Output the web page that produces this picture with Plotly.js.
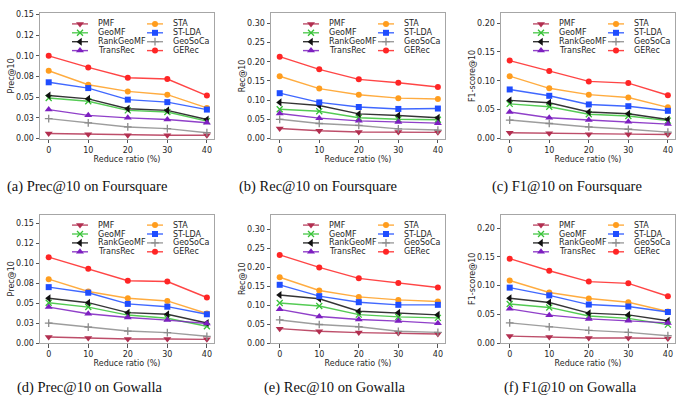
<!DOCTYPE html>
<html><head><meta charset="utf-8">
<script src="https://cdn.plot.ly/plotly-3.0.1.min.js"></script>
<style>html,body{margin:0;padding:0;background:#fff}#chart{width:685px;height:405px}</style>
</head><body><div id="chart"></div>
<script>
// ---------------- data ----------------
const ratios = [0, 10, 20, 30, 40];
const methods = ['PMF', 'GeoMF', 'RankGeoMF', 'TransRec', 'STA', 'ST-LDA', 'GeoSoCa', 'GERec'];

// rows follow the order of `methods`
const precFoursquare = [
  [0.006, 0.0052, 0.004, 0.004, 0.004],
  [0.049, 0.045, 0.034, 0.032, 0.021],
  [0.052, 0.048, 0.036, 0.034, 0.023],
  [0.035, 0.028, 0.025, 0.023, 0.019],
  [0.082, 0.065, 0.057, 0.053, 0.037],
  [0.068, 0.061, 0.047, 0.044, 0.035],
  [0.024, 0.019, 0.014, 0.012, 0.007],
  [0.100, 0.086, 0.0735, 0.072, 0.052]
];
const recFoursquare = [
  [0.026, 0.020, 0.017, 0.017, 0.016],
  [0.076, 0.071, 0.054, 0.050, 0.049],
  [0.094, 0.086, 0.064, 0.060, 0.054],
  [0.065, 0.053, 0.046, 0.043, 0.040],
  [0.162, 0.130, 0.114, 0.105, 0.103],
  [0.118, 0.094, 0.082, 0.077, 0.078],
  [0.050, 0.039, 0.034, 0.025, 0.022],
  [0.213, 0.180, 0.154, 0.145, 0.134]
];
const f1Foursquare = [
  [0.010, 0.009, 0.0075, 0.0075, 0.007],
  [0.060, 0.055, 0.042, 0.039, 0.031],
  [0.066, 0.062, 0.046, 0.043, 0.033],
  [0.046, 0.036, 0.032, 0.029, 0.025],
  [0.108, 0.087, 0.076, 0.071, 0.054],
  [0.085, 0.074, 0.059, 0.056, 0.048],
  [0.032, 0.026, 0.020, 0.016, 0.011],
  [0.135, 0.117, 0.099, 0.096, 0.075]
];
const precGowalla = [
  [0.0076, 0.0063, 0.005, 0.005, 0.0046],
  [0.0505, 0.045, 0.035, 0.031, 0.021],
  [0.056, 0.0505, 0.038, 0.036, 0.025],
  [0.045, 0.0367, 0.032, 0.0287, 0.0244],
  [0.080, 0.0645, 0.056, 0.0527, 0.037],
  [0.070, 0.063, 0.049, 0.0455, 0.036],
  [0.025, 0.020, 0.015, 0.013, 0.0084],
  [0.1075, 0.093, 0.078, 0.077, 0.057]
];
const recGowalla = [
  [0.038, 0.031, 0.0275, 0.0266, 0.024],
  [0.106, 0.098, 0.075, 0.069, 0.0665],
  [0.127, 0.117, 0.084, 0.080, 0.0745],
  [0.089, 0.070, 0.062, 0.058, 0.052],
  [0.174, 0.139, 0.122, 0.114, 0.110],
  [0.154, 0.124, 0.108, 0.101, 0.101],
  [0.061, 0.049, 0.043, 0.031, 0.028],
  [0.233, 0.200, 0.171, 0.159, 0.147]
];
const f1Gowalla = [
  [0.012, 0.0104, 0.0087, 0.0087, 0.008],
  [0.068, 0.062, 0.047, 0.043, 0.032],
  [0.078, 0.0705, 0.052, 0.049, 0.0387],
  [0.0595, 0.0485, 0.042, 0.0387, 0.035],
  [0.109, 0.088, 0.0775, 0.071, 0.055],
  [0.0965, 0.083, 0.067, 0.0636, 0.054],
  [0.035, 0.028, 0.022, 0.0185, 0.0127],
  [0.147, 0.126, 0.107, 0.104, 0.0815]
];

const xTickVals = [0, 10, 20, 30, 40];
const xTickText = ['0', '10', '20', '30', '40'];
const precTickVals = [0, 0.025, 0.05, 0.075, 0.1, 0.125, 0.15];
const precTickText = ['0.00', '0.03', '0.05', '0.08', '0.10', '0.12', '0.15'];
const recTickVals = [0, 0.05, 0.1, 0.15, 0.2, 0.25, 0.3];
const recTickText = ['0.00', '0.05', '0.10', '0.15', '0.20', '0.25', '0.30'];
const f1TickVals = [0, 0.05, 0.1, 0.15, 0.2];
const f1TickText = ['0.00', '0.05', '0.10', '0.15', '0.20'];

const xTitle = 'Reduce ratio (%)';
const yTitles = ['Prec@10', 'Rec@10', 'F1-score@10'];
const captions = [
  '(a) Prec@10 on Foursquare', '(b) Rec@10 on Foursquare', '(c) F1@10 on Foursquare',
  '(d) Prec@10 on Gowalla', '(e) Rec@10 on Gowalla', '(f) F1@10 on Gowalla'
];

// ---------------- styles / layout ----------------
const W = 685, H = 405;
const styles = {
  'PMF':       {color: '#b22f50', symbol: 'triangle-down', size: 7},
  'GeoMF':     {color: '#36c236', symbol: 'x-thin', size: 6},
  'RankGeoMF': {color: '#111111', symbol: 'triangle-left', size: 7},
  'TransRec':  {color: '#7d1fc0', symbol: 'triangle-up', size: 7},
  'STA':       {color: '#ff9d1e', symbol: 'circle', size: 6},
  'ST-LDA':    {color: '#1f4dff', symbol: 'square', size: 6},
  'GeoSoCa':   {color: '#8c8c8c', symbol: 'cross-thin', size: 5.5},
  'GERec':     {color: '#ff2525', symbol: 'circle', size: 6}
};
const colLeft = [40, 271, 501], colRight = [214, 445, 675];
const rowTop = [13.3, 214.5], rowBottom = [138.5, 343];
const captionX = [5, 237, 490, 15, 262, 502];
const captionY = [187, 387];

const panels = [
  {data: precFoursquare, tv: precTickVals, tt: precTickText, top: 0.1515, yt: 0},
  {data: recFoursquare,  tv: recTickVals,  tt: recTickText,  top: 0.326,  yt: 1},
  {data: f1Foursquare,   tv: f1TickVals,   tt: f1TickText,   top: 0.217,  yt: 2},
  {data: precGowalla,    tv: precTickVals, tt: precTickText, top: 0.161,  yt: 0},
  {data: recGowalla,     tv: recTickVals,  tt: recTickText,  top: 0.340,  yt: 1},
  {data: f1Gowalla,      tv: f1TickVals,   tt: f1TickText,   top: 0.224,  yt: 2}
];

const tickFont = {family: 'DejaVu Sans', size: 8, color: '#262626'};
const traces = [];
const annotations = [];
const layout = {
  width: W, height: H,
  margin: {l: 0, r: 0, t: 0, b: 0},
  paper_bgcolor: '#ffffff', plot_bgcolor: 'rgba(0,0,0,0)',
  showlegend: false,
  font: {family: 'DejaVu Sans', size: 8, color: '#262626'}
};

function hexA(hex, a) {
  const n = parseInt(hex.slice(1), 16);
  return `rgba(${(n >> 16) & 255},${(n >> 8) & 255},${n & 255},${a})`;
}
function markerFor(st) {
  const thin = st.symbol.indexOf('thin') >= 0;
  return {
    symbol: st.symbol, size: st.size, color: st.color,
    line: {color: st.color, width: thin ? 1.3 : 0}
  };
}

panels.forEach((p, k) => {
  const r = Math.floor(k / 3), c = k % 3;
  const sfx = k === 0 ? '' : String(k + 1);
  const xa = 'x' + sfx, ya = 'y' + sfx;
  const L = colLeft[c], R = colRight[c], T = rowTop[r], B = rowBottom[r];
  layout['xaxis' + sfx] = {
    domain: [L / W, R / W], anchor: ya, range: [-2.2, 41.8],
    tickvals: xTickVals, ticktext: xTickText,
    showline: true, mirror: true, linecolor: '#a6a6a6', linewidth: 1,
    ticks: 'outside', ticklen: 3.5, tickwidth: 1, tickcolor: '#555555',
    showgrid: false, zeroline: false, tickfont: tickFont,
    title: {text: xTitle, font: {family: 'DejaVu Sans', size: 8, color: '#262626'}, standoff: 1}
  };
  layout['yaxis' + sfx] = {
    domain: [1 - B / H, 1 - T / H], anchor: xa, range: [0, p.top],
    tickvals: p.tv, ticktext: p.tt,
    showline: true, mirror: true, linecolor: '#a6a6a6', linewidth: 1,
    ticks: 'outside', ticklen: 3.5, tickwidth: 1, tickcolor: '#555555',
    showgrid: false, zeroline: false, tickfont: tickFont,
    title: {text: yTitles[p.yt], font: {family: 'DejaVu Sans', size: 8, color: '#262626'}, standoff: 0}
  };
  methods.forEach((m, i) => {
    const st = styles[m];
    traces.push({
      type: 'scatter', mode: 'lines+markers', name: m,
      x: ratios, y: p.data[i], xaxis: xa, yaxis: ya,
      line: {color: hexA(st.color, 0.85), width: 1.4},
      marker: markerFor(st), cliponaxis: false, showlegend: false
    });
  });
  // legend (2 columns x 4 rows) drawn on a full-figure pixel axis
  methods.forEach((m, i) => {
    const st = styles[m];
    const col = Math.floor(i / 4), row = i % 4;
    const hx0 = L + 32 + col * 75, hy = T + 10.6 + row * 8.9;
    traces.push({
      type: 'scatter', mode: 'lines+markers', name: m,
      x: [hx0, hx0 + 8, hx0 + 16], y: [hy, hy, hy], xaxis: 'x7', yaxis: 'y7',
      line: {color: hexA(st.color, 0.85), width: 1.4},
      marker: Object.assign(markerFor(st), {opacity: [0, 1, 0]}),
      cliponaxis: false, showlegend: false, hoverinfo: 'skip'
    });
    annotations.push({
      xref: 'x7', yref: 'y7', x: hx0 + 24, y: hy, text: m, showarrow: false,
      xanchor: 'left', yanchor: 'middle', font: {family: 'DejaVu Sans', size: 8, color: '#262626'}
    });
  });
  annotations.push({
    xref: 'paper', yref: 'paper', x: captionX[k] / W, y: 1 - captionY[r] / H,
    text: captions[k], showarrow: false, xanchor: 'left', yanchor: 'middle',
    font: {family: 'Liberation Serif', size: 14.5, color: '#111111'}
  });
});

layout.xaxis7 = {domain: [0, 1], range: [0, W], visible: false, fixedrange: true, anchor: 'y7'};
layout.yaxis7 = {domain: [0, 1], range: [H, 0], visible: false, fixedrange: true, anchor: 'x7'};
layout.annotations = annotations;

Plotly.newPlot('chart', traces, layout, {staticPlot: true, displayModeBar: false});
</script>
</body></html>
